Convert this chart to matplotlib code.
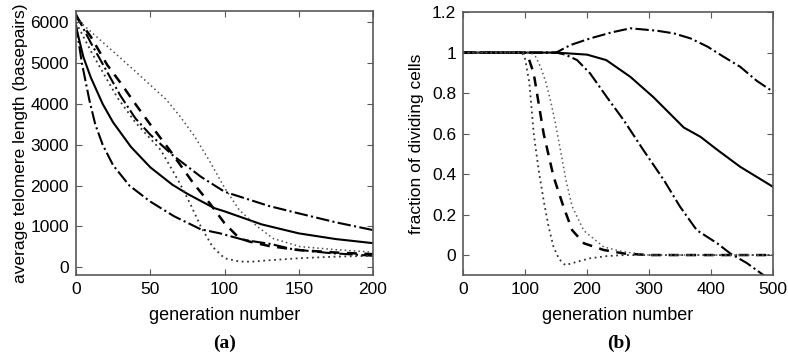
import numpy as np
import matplotlib.pyplot as plt

plt.rcParams['font.family'] = ['Liberation Sans', 'DejaVu Sans']

# ---- panel (a): average telomere length vs generation ----
solid_a_x = [0, 5, 10, 18, 25, 37, 50, 65, 75, 93, 100, 125, 150, 175, 200]
solid_a_y = [5900, 5150, 4650, 4000, 3550, 2950, 2450, 2020, 1800, 1450, 1370, 1050, 830, 690, 590]

dashdot_low_x = [0, 4, 9, 13, 18, 25, 36, 50, 66, 84, 97, 113, 131, 146, 170, 200]
dashdot_low_y = [5950, 5000, 4100, 3500, 3000, 2500, 2000, 1610, 1250, 930, 830, 670, 570, 440, 350, 280]

dashdot_up_x = [0, 10, 20, 30, 40, 50, 65, 84, 100, 130, 150, 175, 200]
dashdot_up_y = [6200, 5500, 4850, 4200, 3650, 3250, 2750, 2220, 1850, 1500, 1320, 1100, 910]

dashed_a_x = [0, 10, 21, 31, 39, 50, 63, 79, 90, 100, 110, 117, 130, 150, 175, 200]
dashed_a_y = [6150, 5650, 4960, 4470, 4050, 3500, 2875, 2060, 1570, 1080, 710, 627, 520, 420, 360, 320]

dot_in_x = [0, 10, 19, 28, 40, 57, 63, 70, 77, 84, 92, 100, 110, 118, 130, 150, 175, 200]
dot_in_y = [6000, 5300, 4720, 4150, 3550, 2875, 2500, 2050, 1550, 1000, 500, 220, 140, 135, 170, 220, 260, 280]

dot_out_x = [0, 20, 40, 61, 70, 80, 90, 100, 110, 122, 133, 151, 175, 200]
dot_out_y = [6100, 5450, 4800, 4100, 3700, 3200, 2600, 1950, 1400, 1000, 700, 505, 430, 370]

# ---- panel (b): fraction of dividing cells vs generation ----
solid_b_x = [0, 150, 200, 231, 270, 307, 356, 383, 410, 447, 500]
solid_b_y = [1, 1, 0.99, 0.963, 0.88, 0.78, 0.63, 0.584, 0.52, 0.436, 0.337]

dashdot_hi_x = [0, 150, 173, 205, 240, 270, 313, 340, 367, 394, 420, 447, 474, 500]
dashdot_hi_y = [1, 1, 1.037, 1.07, 1.10, 1.12, 1.108, 1.095, 1.07, 1.03, 0.98, 0.93, 0.86, 0.807]

dashdot_mid_x = [0, 150, 165, 184, 205, 232, 259, 291, 324, 350, 377, 410, 431, 458, 485, 500]
dashdot_mid_y = [1, 1, 0.99, 0.963, 0.897, 0.78, 0.667, 0.518, 0.37, 0.239, 0.123, 0.058, 0.008, -0.04, -0.1, -0.13]

dashed_b_x = [0, 98, 105, 114, 130, 146, 162, 176, 195, 227, 259, 300, 500]
dashed_b_y = [1, 1, 0.98, 0.897, 0.6, 0.387, 0.239, 0.123, 0.058, 0.025, 0.008, 0, 0]

dot_steep_x = [0, 95, 100, 107, 114, 122, 130, 138, 146, 155, 165, 184, 205, 232, 260, 500]
dot_steep_y = [1, 1, 0.97, 0.85, 0.6, 0.42, 0.27, 0.14, 0.04, -0.02, -0.05, -0.033, -0.016, -0.005, 0, 0]

dot_soft_x = [0, 109, 117, 125, 133, 141, 149, 157, 166, 176, 195, 227, 259, 300, 500]
dot_soft_y = [1, 1, 0.98, 0.93, 0.86, 0.765, 0.65, 0.52, 0.37, 0.24, 0.12, 0.04, 0.016, 0, 0]

fig = plt.figure(figsize=(7.88, 3.54), dpi=100)
ax_a = fig.add_axes([0.0964, 0.2232, 0.377, 0.7458])
ax_b = fig.add_axes([0.5876, 0.2223, 0.3934, 0.7435])

lw = 1.5
ax_a.plot(solid_a_x, solid_a_y, color='k', lw=lw, ls='-')
ax_a.plot(dashdot_low_x, dashdot_low_y, color='k', lw=lw, ls='-.')
ax_a.plot(dashdot_up_x, dashdot_up_y, color='k', lw=lw, ls='-.')
ax_a.plot(dashed_a_x, dashed_a_y, color='k', lw=lw + 0.3, ls=(0, (4, 3)))
ax_a.plot(dot_in_x, dot_in_y, color='0.2', lw=1.3, ls=(0, (1, 2)))
ax_a.plot(dot_out_x, dot_out_y, color='0.3', lw=1.1, ls=(0, (1, 2)))

ax_b.plot(solid_b_x, solid_b_y, color='k', lw=lw, ls='-')
ax_b.plot(dashdot_hi_x, dashdot_hi_y, color='k', lw=lw, ls='-.')
ax_b.plot(dashdot_mid_x, dashdot_mid_y, color='k', lw=lw, ls='-.')
ax_b.plot(dashed_b_x, dashed_b_y, color='k', lw=lw + 0.3, ls=(0, (4, 3)))
ax_b.plot(dot_steep_x, dot_steep_y, color='0.2', lw=1.3, ls=(0, (1, 2)))
ax_b.plot(dot_soft_x, dot_soft_y, color='0.35', lw=1.1, ls=(0, (1, 2)))

ax_a.set_xlim(0, 200)
ax_a.set_ylim(-190, 6280)
ax_a.set_xticks(range(0, 201, 50))
ax_a.set_yticks(range(0, 6001, 1000))

ax_b.set_xlim(0, 500)
ax_b.set_ylim(-0.1, 1.2)
ax_b.set_xticks(range(0, 501, 100))
ax_b.set_yticks([0, 0.2, 0.4, 0.6, 0.8, 1.0, 1.2])
ax_b.set_yticklabels(['0', '0.2', '0.4', '0.6', '0.8', '1', '1.2'])

for ax in (ax_a, ax_b):
    ax.tick_params(direction='in', top=True, right=True, length=4,
                   labelsize=12.5, color='0.35', pad=5)
    for sp in ax.spines.values():
        sp.set_color('0.35')
        sp.set_linewidth(1.2)
    ax.set_xlabel('generation number', fontsize=13, labelpad=7)

ax_a.set_ylabel('average telomere length (basepairs)', fontsize=12.5, labelpad=2)
ax_b.set_ylabel('fraction of dividing cells', fontsize=12.5, labelpad=6)

fig.text(0.2849, 0.03, '(a)', ha='center', va='center', fontsize=14,
         fontweight='bold', family='Liberation Serif')
fig.text(0.7855, 0.03, '(b)', ha='center', va='center', fontsize=14,
         fontweight='bold', family='Liberation Serif')

fig.savefig('out.png', dpi=100)
